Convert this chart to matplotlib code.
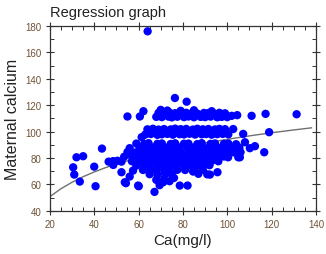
import matplotlib
matplotlib.use("Agg")
import matplotlib.pyplot as plt
from matplotlib.ticker import MultipleLocator

plt.rcParams["font.family"] = ["Liberation Sans", "DejaVu Sans"]

# sparse points / outliers
sparse_ca = [64.1, 76.4, 81.7, 70.0, 62.2, 55.0, 60.6, 111.0, 117.3, 131.3, 118.9, 107.2, 116.7, 110.2, 112.5, 105.0, 102.7, 108.0,
             32.0, 35.0, 30.5, 31.0, 33.5, 40.0, 40.6, 43.5, 46.5, 48.5,
             50.5, 52.3, 48.6, 52.3, 54.3, 60.1, 67.2, 78.6, 82.1, 84.6,
             92.2, 95.6, 100.4, 105.7, 61.4, 53.8, 59.8, 71.1, 56.0, 57.5]
sparse_val = [176.0, 125.5, 122.7, 116.5, 115.5, 111.5, 111.5, 112.0, 113.5, 113.2, 99.6, 98.3, 84.4, 87.5, 89.0, 80.6, 102.0, 92.0,
              80.6, 81.4, 73.0, 67.5, 62.2, 73.5, 58.7, 87.2, 77.3, 77.7,
              78.0, 77.3, 74.8, 69.3, 61.0, 58.7, 54.4, 59.2, 59.2, 69.8,
              67.5, 69.3, 80.6, 80.6, 95.8, 61.7, 59.2, 61.7, 66.0, 70.5]

# upper band (~110-116)
upper_ca = [68, 70.5, 73.5, 75, 77.5, 80.5, 82.5, 85, 88, 90, 92.5, 95.5, 97.5, 100,
            69, 71.5, 74, 76.5, 79.5, 81.5, 84, 86.5, 89.5, 91.5, 94, 96.5, 99,
            102, 104.5, 73, 79, 85, 93]
upper_val = [111.2, 111.0, 111.4, 110.8, 111.3, 111.0, 111.5, 110.9, 111.2, 111.0, 111.4, 110.9, 111.2, 111.0,
             114.2, 113.8, 114.4, 114.0, 113.6, 114.3, 114.0, 113.7, 114.2, 114.1, 113.8, 114.3, 113.9,
             112.0, 112.5, 116.0, 115.8, 116.2, 115.5]

# middle band (~97-102)
middle_ca = [63, 65.5, 68.5, 70.5, 73, 75.5, 78.5, 80.5, 83, 85.5, 88.5, 90.5, 93, 95.5, 98, 100.5,
             64, 66.5, 69, 71.5, 74.5, 76.5, 79, 81.5, 84.5, 86.5, 89, 91.5, 94.5, 96.5, 99]
middle_val = [97.8, 98.2, 97.6, 98.0, 98.3, 97.7, 98.1, 97.9, 98.4, 97.8, 98.0, 98.2, 97.7, 98.1, 98.3, 98.0,
              101.8, 102.2, 101.6, 102.0, 101.7, 102.3, 101.9, 102.1, 101.6, 102.2, 101.8, 102.0, 101.7, 102.1, 101.9]

# main cluster
blob_ca = [59, 62.5, 64.5, 68.5, 70.5, 74.5, 76.5, 80.5, 82.5, 86.5, 88.5, 92.5, 94.5, 98.5, 100.5, 104,
           56, 60.5, 63, 66.5, 70, 72.5, 75, 78.5, 82, 84.5, 87, 90.5, 93, 96.5, 99, 102.5, 105.5,
           55, 58.5, 61, 64.5, 67, 70.5, 73, 76.5, 79, 82.5, 85, 88.5, 91, 94.5, 97, 100.5, 103, 106,
           53.5, 57, 59.5, 63, 65.5, 69, 71.5, 75, 77.5, 81, 83.5, 87, 89.5, 93, 95.5, 98.5,
           57, 60.5, 63, 66.5, 69, 72.5, 75, 78.5, 81, 84.5, 87, 90.5, 93, 96,
           59, 62.5, 65, 68.5, 71, 74.5, 77, 80.5, 83, 86.5, 89, 92,
           62, 65.5, 68, 71.5, 74, 77.5, 81, 85, 89,
           65, 68.5, 72, 75, 87, 91,
           68, 71.5, 74, 69.5, 76]
blob_val = [91.0, 90.6, 91.3, 90.8, 91.1, 90.7, 91.2, 90.9, 91.0, 90.6, 91.3, 90.8, 91.1, 90.7, 91.0, 90.5,
            87.5, 87.9, 87.6, 88.0, 87.4, 87.8, 87.6, 88.1, 87.5, 87.9, 87.7, 87.4, 88.0, 87.6, 87.8, 87.5, 87.9,
            84.6, 84.2, 84.5, 84.0, 84.7, 84.3, 84.5, 84.1, 84.6, 84.4, 84.2, 84.7, 84.3, 84.5, 84.0, 84.6, 84.3, 84.5,
            81.0, 81.3, 80.9, 81.4, 81.1, 80.8, 81.2, 81.0, 81.3, 80.9, 81.2, 81.0, 81.4, 80.8, 81.1, 81.2,
            77.6, 78.0, 77.7, 78.1, 77.5, 77.9, 77.8, 78.0, 77.6, 77.9, 77.7, 78.1, 77.8, 77.6,
            74.3, 74.7, 74.4, 74.8, 74.5, 74.2, 74.6, 74.4, 74.7, 74.3, 74.5, 74.6,
            71.0, 71.4, 71.2, 70.9, 71.3, 71.1, 71.0, 71.4, 71.2,
            67.8, 67.5, 68.0, 67.6, 68.1, 67.7,
            63.5, 64.0, 62.5, 59.5, 65.0]

# regression curve
fit_ca = [20, 25, 30, 35, 40, 45, 50, 60, 70, 80, 90, 100, 110, 120, 130, 138]
fit_val = [50.8, 56.8, 61.7, 65.9, 69.5, 72.7, 75.5, 80.4, 84.6, 88.2, 91.4, 94.2, 96.8, 99.2, 101.3, 102.9]

ca = sparse_ca + upper_ca + middle_ca + blob_ca
val = sparse_val + upper_val + middle_val + blob_val

fig = plt.figure(figsize=(3.26, 2.55), dpi=100)
ax = fig.add_axes([0.153, 0.169, 0.816, 0.725])

ax.plot(fit_ca, fit_val, color="#707070", linewidth=1.0, zorder=1)
ax.scatter(ca, val, s=36, color="#0000ff", edgecolors="none", zorder=2)

ax.set_xlim(20, 140)
ax.set_ylim(40, 180)
ax.set_xticks(range(20, 141, 20))
ax.set_yticks(range(40, 181, 20))
ax.xaxis.set_minor_locator(MultipleLocator(5))
ax.yaxis.set_minor_locator(MultipleLocator(10))
ax.tick_params(which="major", direction="inout", length=6, width=0.8,
               top=True, right=True, labelsize=7, labelcolor="#6e5236",
               color="#333333", pad=3)
ax.tick_params(which="minor", direction="in", length=3, width=0.7,
               top=True, right=True, color="#333333")
for sp in ax.spines.values():
    sp.set_color("#333333")
    sp.set_linewidth(0.9)

ax.set_xlabel("Ca(mg/l)", fontsize=11, color="#222222", labelpad=3)
ax.set_ylabel("Maternal calcium", fontsize=11.5, color="#222222", labelpad=4)
fig.text(50 / 326, 1 - 17 / 255, "Regression graph", fontsize=10.5,
         color="#222222", ha="left", va="baseline")

fig.savefig("out.png", dpi=100)
